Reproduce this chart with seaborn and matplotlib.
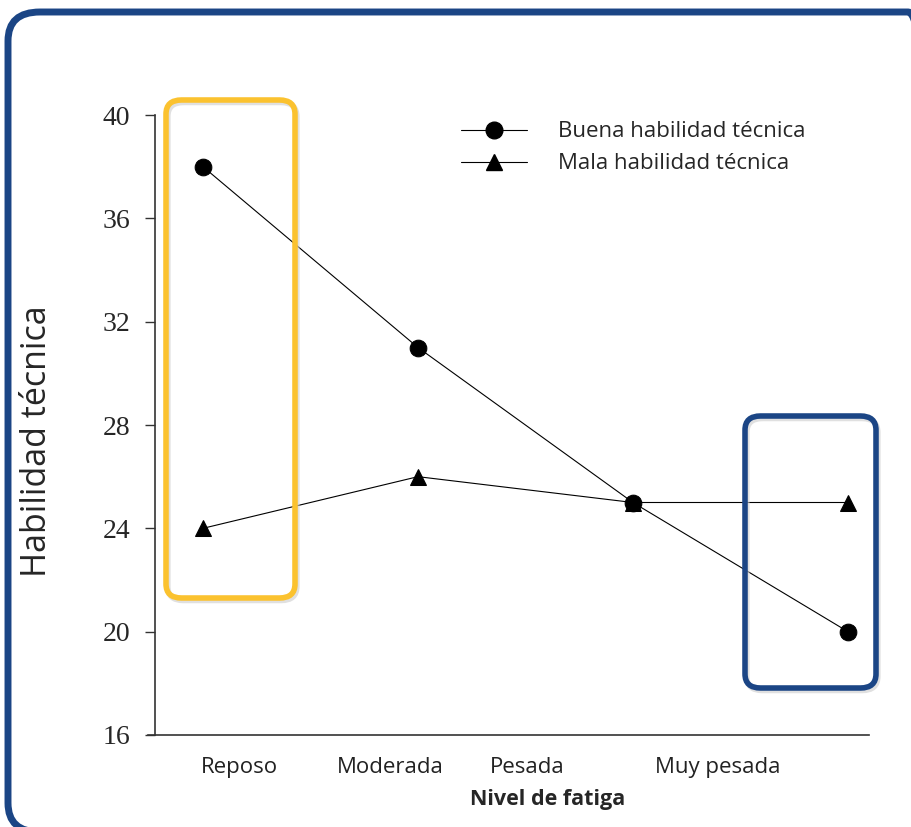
import matplotlib
matplotlib.use("Agg")
import matplotlib.pyplot as plt
from matplotlib.patches import FancyBboxPatch
from matplotlib.lines import Line2D
import pandas as pd
import seaborn as sns

sns.set_theme(style="white")

# data
niveles = ["Reposo", "Moderada", "Pesada", "Muy pesada"]
buena = [38, 31, 25, 20]
mala = [24, 26, 25, 25]
grupos = ["Buena habilidad técnica", "Mala habilidad técnica"]
y_ticks = [16, 20, 24, 28, 32, 36, 40]
# where the category labels sit along the axis (they are not under the points)
label_pos = [0.172, 0.870, 1.507, 2.395]

df = pd.DataFrame({
    "pos": list(range(len(niveles))) * 2,
    "valor": buena + mala,
    "grupo": [grupos[0]] * len(buena) + [grupos[1]] * len(mala),
})

W, H = 912, 827
fig = plt.figure(figsize=(W / 100, H / 100), dpi=100)
ax = fig.add_axes([155 / W, 1 - 735 / H, (869 - 155) / W, (735 - 115) / H])

sns.lineplot(data=df, x="pos", y="valor", hue="grupo", style="grupo",
             markers={grupos[0]: "o", grupos[1]: "^"}, dashes=False,
             palette=["black", "black"], linewidth=0.8, markersize=12,
             markeredgecolor="black", ax=ax, legend=False)

ax.set_xlim(-0.223, 3.098)
ax.set_ylim(16, 40)
ax.set_yticks(y_ticks)
ax.set_yticklabels([str(t) for t in y_ticks], family="Liberation Serif", fontsize=20)
ax.set_xticks([])
ax.tick_params(axis="y", direction="out", length=7, width=1, color="#333333",
               left=True, pad=11)
for s in ["top", "right"]:
    ax.spines[s].set_visible(False)
for s in ["left", "bottom"]:
    ax.spines[s].set_color("#333333")
    ax.spines[s].set_linewidth(1.2)
ax.spines["bottom"].set_bounds(-0.255, 3.098)
ax.set_xlabel("")
ax.set_ylabel("")

for p, lab in zip(label_pos, niveles):
    ax.text(p, -0.053, lab, transform=ax.get_xaxis_transform(), ha="center",
            va="center", fontsize=16, family="Open Sans", color="#222222")
fig.text(548 / W, 1 - 799 / H, "Nivel de fatiga", ha="center", va="center",
         fontsize=15.5, family="Open Sans", fontweight="bold")
fig.text(37 / W, 1 - 441 / H, "Habilidad técnica", ha="center", va="center",
         rotation=90, fontsize=24.5, family="Open Sans")

# legend
handles = [Line2D([], [], color="black", lw=0.8, marker="o", markersize=12),
           Line2D([], [], color="black", lw=0.8, marker="^", markersize=12)]
leg = ax.legend(handles, grupos, loc="upper left", bbox_to_anchor=(0.4, 1.022),
                frameon=False, handlelength=3.0, handletextpad=1.4,
                labelspacing=0.5, prop={"family": "Open Sans", "size": 16})

# highlight boxes
def box(x0, y0, x1, y1, color):
    shadow = FancyBboxPatch((x0 / W + 0.002, 1 - y1 / H - 0.003), (x1 - x0) / W, (y1 - y0) / H,
                            boxstyle="round,pad=0,rounding_size=0.017",
                            transform=fig.transFigure, fill=False,
                            edgecolor="#cccccc", linewidth=4, alpha=0.6, zorder=9)
    fig.patches.append(shadow)
    p = FancyBboxPatch((x0 / W, 1 - y1 / H), (x1 - x0) / W, (y1 - y0) / H,
                       boxstyle="round,pad=0,rounding_size=0.017",
                       transform=fig.transFigure, fill=False,
                       edgecolor=color, linewidth=4, zorder=10)
    fig.patches.append(p)

box(166, 100, 295, 598, "#fbc22f")
box(745, 416, 876, 688, "#1b4585")

# outer frame
frame = FancyBboxPatch((8 / W, 1 - 832 / H), (940 - 8) / W, (832 - 12) / H,
                       boxstyle="round,pad=0,rounding_size=0.035",
                       transform=fig.transFigure, fill=False,
                       edgecolor="#1b4585", linewidth=5, zorder=11)
fig.patches.append(frame)

fig.savefig("out.png", dpi=100)
